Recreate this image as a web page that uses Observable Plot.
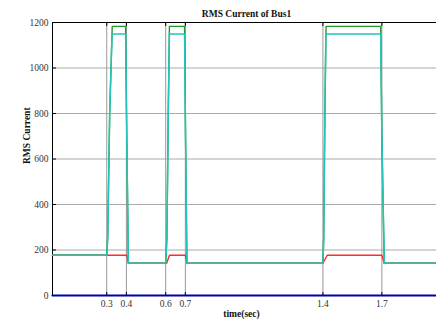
<!DOCTYPE html>
<html>
<head>
<meta charset="utf-8">
<script src="https://cdn.jsdelivr.net/npm/d3@7"></script>
<script src="https://cdn.jsdelivr.net/npm/@observablehq/plot@0.6"></script>
<style>
  html, body { margin: 0; padding: 0; background: #fff; }
  #chart { width: 436px; height: 323px; overflow: hidden; }
  #chart svg text { font-family: "Liberation Serif", "DejaVu Serif", serif; }
</style>
</head>
<body>
<div id="chart"></div>
<script>
// ---- data ----
const xTicks = [0.3, 0.4, 0.6, 0.7, 1.4, 1.7];
const yTicks = [0, 200, 400, 600, 800, 1000, 1200];
const yGrid = [200, 400, 600, 800, 1000];
const xDomain = [0.024, 1.978];

const greenT = [0.024, 0.3, 0.305, 0.315, 0.328, 0.396, 0.402, 0.41, 0.6, 0.606, 0.613, 0.619, 0.696, 0.701, 0.708, 1.4, 1.404, 1.41, 1.416, 1.694, 1.70, 1.712, 1.978];
const greenV = [177, 177, 260, 800, 1183, 1183, 700, 142, 142, 250, 800, 1183, 1183, 700, 142, 142, 250, 800, 1183, 1183, 700, 142, 142];

const cyanT = [0.024, 0.3, 0.305, 0.315, 0.327, 0.396, 0.402, 0.41, 0.6, 0.606, 0.613, 0.619, 0.696, 0.701, 0.708, 1.4, 1.404, 1.41, 1.415, 1.694, 1.70, 1.712, 1.978];
const cyanV = [177, 177, 250, 800, 1150, 1150, 700, 142, 142, 250, 800, 1150, 1150, 700, 142, 142, 250, 800, 1150, 1150, 700, 142, 142];

const redT = [0.024, 0.402, 0.41, 0.605, 0.619, 0.7, 0.708, 1.4, 1.422, 1.7, 1.712, 1.978];
const redV = [177, 177, 142, 142, 177, 177, 142, 142, 177, 177, 142, 142];

const blueT = [0.024, 1.978];
const blueV = [0, 0];

const title = "RMS Current of Bus1";
const xLabel = "time(sec)";
const yLabel = "RMS Current";

const toRows = (T, V) => T.map((t, i) => ({t, v: V[i]}));
const green = toRows(greenT, greenV);
const cyan = toRows(cyanT, cyanV);
const red = toRows(redT, redV);
const blue = toRows(blueT, blueV);

const serif = "Liberation Serif";

const chart = Plot.plot({
  width: 436,
  height: 323,
  marginLeft: 52,
  marginRight: 0,
  marginTop: 22,
  marginBottom: 28,
  style: {fontFamily: serif, fontSize: "9.5px", color: "#222", background: "#fff"},
  x: {domain: xDomain},
  y: {domain: [0, 1200]},
  marks: [
    Plot.gridY(yGrid, {stroke: "#aaa", strokeOpacity: 1}),
    Plot.ruleX(xTicks, {stroke: "#999"}),
    Plot.ruleY([1200], {stroke: "#000"}),
    Plot.ruleX([xDomain[0]], {stroke: "#000"}),
    Plot.axisY(yTicks, {anchor: "left", tickSize: 0, tickPadding: 4, fill: "#333", label: null, tickFormat: d3.format("d"), fontFamily: serif, fontSize: 9.5}),
    Plot.axisY(yTicks, {anchor: "left", tickSize: -4, text: null, stroke: "#000", label: null}),
    Plot.axisX(xTicks, {anchor: "bottom", tickSize: 0, tickPadding: 5, fill: "#333", label: null, tickFormat: d3.format(".1f"), fontFamily: serif, fontSize: 9.5}),
    Plot.axisX(xTicks, {anchor: "bottom", tickSize: -3, text: null, stroke: "#000", label: null}),
    Plot.axisX(xTicks, {anchor: "top", tickSize: -3, text: null, stroke: "#000", label: null}),
    Plot.line(blue, {x: "t", y: "v", stroke: "#0000a8", strokeWidth: 2.2}),
    Plot.line(red, {x: "t", y: "v", stroke: "#ff2a2a", strokeWidth: 1.4}),
    Plot.line(green, {x: "t", y: "v", stroke: "#1f9a2a", strokeWidth: 1.4}),
    Plot.line(cyan, {x: "t", y: "v", stroke: "#22c4c0", strokeWidth: 1.5}),
    Plot.text([title], {frameAnchor: "top", dy: -12, dx: 2, text: d => d, fontWeight: "bold", fontSize: 9.5, fill: "#111", fontFamily: serif}),
    Plot.text([xLabel], {frameAnchor: "bottom", dy: 21, dx: -3, text: d => d, fontWeight: "bold", fontSize: 9.5, fill: "#111", fontFamily: serif}),
    Plot.text([yLabel], {frameAnchor: "left", dx: -25.5, dy: 5, rotate: -90, text: d => d, fontWeight: "bold", fontSize: 9.5, fill: "#111", fontFamily: serif})
  ]
});
document.getElementById("chart").appendChild(chart);
</script>
</body>
</html>
